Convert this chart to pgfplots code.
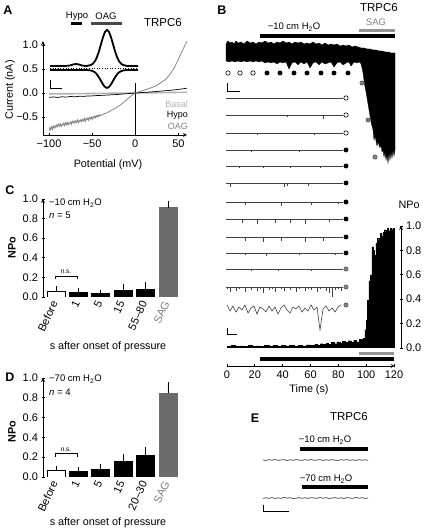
\documentclass[border=0pt]{standalone}
\usepackage{pgfplots}
\pgfplotsset{compat=1.18}
\usepackage{pgfplotstable}
\usepackage{fontspec}
\setmainfont{Liberation Sans}
\definecolor{sagc}{gray}{0.50}
\definecolor{oagc}{gray}{0.52}
\definecolor{basalc}{gray}{0.70}
\definecolor{gcirc}{gray}{0.50}
\definecolor{sagbar}{gray}{0.42}
\definecolor{stimg}{gray}{0.58}
\definecolor{trace}{gray}{0.25}
\newcommand{\tickf}{\fontsize{11}{12}\selectfont}
\newcommand{\labf}{\fontsize{10.8}{12}\selectfont}
\newcommand{\annf}{\fontsize{9.5}{11}\selectfont}
\newcommand{\letf}{\fontsize{12.5}{14}\selectfont\bfseries}

\pgfplotsset{
  every axis/.append style={scale only axis, anchor=south west,
    /pgf/number format/assume math mode=true,
    tick label style={font=\tickf},
    major tick length=3pt, tick align=outside,
    axis line style={-, line width=0.8pt},
    every tick/.append style={black, line width=0.8pt}},
  canvas/.style={at={(0pt,0pt)}, width=432pt, height=529pt, xmin=0, xmax=432, ymin=-529, ymax=0, hide axis, clip=false},
  spikes/.style={mark=none, draw=none, forget plot,
    error bars/y dir=minus, error bars/y explicit, error bars/error mark=none,
    error bars/error bar style={draw=trace, line width=0.5pt, solid}},
  fuzz/.style={mark=none, draw=none, forget plot,
    error bars/y dir=both, error bars/y explicit, error bars/error mark=none,
    error bars/error bar style={draw=trace!70, line width=0.4pt, solid}},
  bars/.style={ybar, bar width=18pt, bar shift=0pt, line width=0.8pt,
    error bars/y dir=plus, error bars/y explicit,
    error bars/error bar style={draw=black, line width=0.8pt, solid},
    error bars/error mark options={draw=black, line width=0.8pt, mark size=2.5pt}},
}

\pgfplotstableread{
x r1 r2 r3 r4 r5 r6 r7 r8 r9 r10 r11 r12 r13
227 1 .5 1 .5 1 1 .5 1 .5 1 .5 2 3
230 .5 1 .5 1 .5 4 1 .5 1 .5 1 5 9
233 1.5 .5 1 .5 1 1 .5 1 .5 1 .5 1 4
236 .5 1 1.5 1 .5 .5 1 .5 1 .5 1 4 10
239 1 .5 1 .5 2 1 .5 1 .5 1 .5 2 5
242 .5 1 .5 1 .5 .5 1 4 1 .5 1 1 8
245 1 .5 1 .5 1 1 3 1 4 2 .5 5 3
248 .5 1 .5 1 .5 .5 1 .5 1 .5 1 1.5 11
251 1.5 .5 1 2 1 1 .5 1 .5 1 2.5 3 6
254 .5 1 .5 1 .5 .5 1 .5 1 .5 1 1 4
257 1 .5 2 .5 1 1 .5 5 .5 1 .5 4 12
260 .5 1.5 .5 1 .5 .5 1 .5 1 .5 1 2 5
263 1 .5 1 .5 2.5 1 .5 1 5 1 .5 6 7
266 1.5 1 .5 1 .5 .5 1 .5 1 3 1 1 10
269 1 .5 1 .5 1 1 .5 1 .5 1 .5 3 4
272 .5 1 .5 1 .5 .5 1 .5 1 .5 1 2 9
275 1 .5 1 1.5 1 1 .5 4 .5 1 .5 5 5
278 .5 1 .5 1 .5 .5 1 .5 1 .5 2 1 12
281 1 .5 1 .5 1 1 4 1 4 1 .5 2 6
284 1.5 1 .5 1 .5 4.5 1 .5 1 .5 1 4 3
287 1 2 1 .5 1 3 .5 1 .5 1 .5 1.5 8
290 .5 1 .5 1 2 .5 1 4.5 1 .5 1 3 11
293 1 .5 1.5 .5 1 1 .5 1 .5 1 .5 1 5
296 .5 1 .5 1 .5 .5 1 .5 1 .5 1 5 7
299 1 .5 1 2 1 1 .5 1 .5 2.5 .5 2 4
302 .5 1 .5 1 .5 .5 1 .5 1 .5 1 1 10
305 1.5 .5 1 .5 1 1 .5 5 5.5 1 .5 4 6
308 .5 1 .5 1 .5 3.5 1 .5 1 .5 1 2 9
311 1 .5 1 .5 1 1 3.5 1 .5 1 2.5 3 3
314 .5 1 2 1 .5 .5 1 .5 1 .5 1 1 8
317 1 .5 1 .5 1 1 .5 1 .5 1 .5 5 5
320 .5 1 .5 1 2 .5 1 .5 1 .5 1 2 28
323 1 4 1 .5 1 1 .5 1 4.5 1 .5 1 7
326 1.5 1 .5 1 .5 .5 1 .5 1 .5 1 4 4
329 1 .5 1 .5 1 1 .5 3.5 .5 1 .5 6 9
332 .5 1 .5 1 .5 .5 1 .5 1 .5 1 10 6
335 1 .5 1 1.5 1 1 .5 1 .5 2 .5 3 10
338 .5 1 .5 1 .5 .5 2 .5 1 .5 1 2 5
341 1 .5 1 .5 1 1 .5 1 .5 1 .5 4 3
}\sweeps

\pgfplotstableread{
x e1 e2
263 0 0.3
266 0.4 -0.2
269 -0.3 0.3
272 0.2 -0.4
275 -0.5 0.4
278 0.3 -0.1
281 0.1 0.3
284 -0.4 -0.5
287 0.5 0.1
290 -0.2 -0.3
293 0.3 0.5
296 -0.4 0.2
299 0.1 -0.4
302 0.4 0.3
305 -0.3 -0.2
308 0.2 0.4
311 -0.5 -0.3
314 0.3 0
317 0 0.3
320 -0.3 -0.5
323 0.4 0.2
326 -0.2 -0.3
329 0.3 0.4
332 -0.4 0.1
335 0.2 -0.4
338 0.5 0.3
341 -0.3 -0.2
344 0.1 0.5
347 -0.4 -0.4
350 0.3 0.1
353 -0.1 0.3
356 0.4 -0.5
359 -0.3 0.2
362 0.2 -0.3
365 -0.2 0.4
368 0.3 0
}\etab

\begin{document}
\begin{tikzpicture}
\fill[white] (0pt,0pt) rectangle (432pt,529pt);

%================ CANVAS (traces, stimulus bars, annotations) ================
\begin{axis}[canvas]
% ---- Panel A inset
\addplot[black, dotted, line width=0.6pt] coordinates {(50,-68.3) (138,-68.3)};
\addplot[black, line width=1.8pt] coordinates {(50,-66) (55,-66) (60,-66) (65,-66) (70,-65.5) (73,-64.5) (76,-64) (79,-64.5) (82,-65.5) (85,-66) (87,-65.9) (91,-65) (93,-63.6) (95,-61.1) (97,-57) (99,-51.2) (101,-44.1) (103,-37.2) (105,-31.9) (107,-30) (109,-31.9) (111,-37.2) (113,-44.1) (115,-51.2) (117,-57) (119,-61.1) (121,-63.6) (123,-65) (127,-65.9) (130,-66) (138,-66)};
\addplot[black, line width=1.8pt] coordinates {(50,-70) (87,-70) (91,-70.5) (93,-71.2) (95,-72.4) (97,-74.5) (99,-77.4) (101,-80.9) (103,-84.4) (105,-87) (107,-88) (109,-87) (111,-84.4) (113,-80.9) (115,-77.4) (117,-74.5) (119,-72.4) (121,-71.2) (123,-70.5) (127,-70) (138,-70)};
\addplot[black, line width=0.8pt] coordinates {(50,-80) (50,-88) (62,-88)};
\addplot[black, line width=3pt] coordinates {(71,-24) (82,-24)};
\addplot[black!72, line width=3pt] coordinates {(91,-24) (122,-24)};

% ---- Panel B: stimulus bars
\addplot[black, line width=3.5pt] coordinates {(260,-36) (395,-36)};
\addplot[stimg, line width=3pt] coordinates {(359,-30.5) (395,-30.5)};

% ---- Panel B: continuous trace
\addplot[fill=black, draw=black, line width=0.3pt] coordinates {
(226,-44) (228,-41) (230,-43) (232,-42) (234,-44) (236,-41) (238,-43) (241,-42) (244,-44) (247,-41) (250,-43) (253,-42) (256,-44) (259,-42) (262,-43) (265,-41) (268,-43) (271,-42) (274,-44) (277,-42) (280,-43) (283,-41) (286,-43) (289,-42) (292,-44) (295,-42) (298,-43) (301,-42) (304,-44) (307,-43) (310,-44) (313,-42) (316,-44) (319,-43) (322,-45) (325,-43) (328,-45) (331,-44) (334,-45) (337,-44) (340,-46) (343,-45) (346,-46) (349,-45) (352,-47) (355,-46) (358,-47) (361,-48) (364,-48) (367,-49) (370,-49) (373,-50) (376,-50) (379,-51) (382,-51) (385,-52) (388,-52) (391,-53) (395,-53)
(395,-150) (394,-156) (393,-150) (392,-158) (391,-152) (390,-160) (389,-153) (388,-163) (387,-155) (386,-160) (385,-152) (384,-157) (383,-150) (382,-152) (381,-145) (380,-148) (378,-142) (377,-146) (375,-136) (374,-140) (373,-130) (372,-126) (371,-122) (370,-116) (369,-110) (368,-104) (367,-98) (366,-92) (365,-87) (364,-80) (363,-73) (362,-68) (361,-64) (360,-62)
(357,-63) (354,-62) (351,-66) (349,-62) (346,-63) (343,-65) (340,-62) (337,-63) (334,-67) (331,-62) (328,-63) (325,-64) (322,-62) (319,-65) (316,-62) (313,-63) (310,-68) (307,-62) (304,-64) (301,-62) (298,-65) (295,-62) (292,-63) (289,-69) (286,-62) (283,-63) (280,-62) (277,-64) (274,-62) (271,-63) (268,-62) (265,-63) (262,-61) (259,-62) (256,-61) (253,-62) (250,-61) (247,-62) (244,-61) (241,-62) (238,-61) (235,-62) (232,-61) (229,-62) (226,-61)} -- cycle;

% ---- Panel B: circles
\addplot[only marks, mark=*, mark size=2.2pt, mark options={fill=white, draw=black, line width=0.6pt}] coordinates {(228,-73) (240,-73) (253,-73) (346,-98) (346,-115) (346,-133)};
\addplot[only marks, mark=*, mark size=2.2pt, mark options={fill=black, draw=black}] coordinates {(267,-73) (280,-73) (294,-73) (307,-73) (321,-73) (334,-73) (348,-73) (346,-150) (346,-166) (346,-183) (346,-202) (346,-219) (346,-237) (346,-253)};
\addplot[only marks, mark=*, mark size=2.2pt, mark options={fill=gcirc, draw=black!70, line width=0.4pt}] coordinates {(362,-83) (368,-120) (375,-157) (346,-269) (346,-287) (346,-305)};
\addplot[black, line width=0.8pt] coordinates {(227,-83) (227,-91) (240,-91)};

% ---- Panel B: sweeps
\addplot[trace, line width=0.7pt] coordinates {(226,-98) (343,-98)};
\addplot[trace, line width=0.7pt] coordinates {(226,-115) (343,-115)};
\addplot[trace, line width=0.7pt] coordinates {(226,-133) (343,-133)};
\addplot[trace, line width=0.7pt] coordinates {(226,-150) (343,-150)};
\addplot[trace, line width=0.7pt] coordinates {(226,-166) (343,-166)};
\addplot[trace, line width=0.7pt] coordinates {(226,-183) (343,-183)};
\addplot[trace, line width=0.7pt] coordinates {(226,-202) (343,-202)};
\addplot[trace, line width=0.7pt] coordinates {(226,-219) (343,-219)};
\addplot[trace, line width=0.7pt] coordinates {(226,-237) (343,-237)};
\addplot[trace, line width=0.7pt] coordinates {(226,-253) (343,-253)};
\addplot[trace, line width=0.7pt] coordinates {(226,-269) (343,-269)};
\addplot[trace, line width=0.7pt] coordinates {(226,-287) (343,-287)};
\addplot[spikes] table[x=x, y expr=-98, y error=r1] {\sweeps};
\addplot[spikes] table[x=x, y expr=-115, y error=r2] {\sweeps};
\addplot[spikes] table[x=x, y expr=-133, y error=r3] {\sweeps};
\addplot[spikes] table[x=x, y expr=-150, y error=r4] {\sweeps};
\addplot[spikes] table[x=x, y expr=-166, y error=r5] {\sweeps};
\addplot[spikes] table[x=x, y expr=-183, y error=r6] {\sweeps};
\addplot[spikes] table[x=x, y expr=-202, y error=r7] {\sweeps};
\addplot[spikes] table[x=x, y expr=-219, y error=r8] {\sweeps};
\addplot[spikes] table[x=x, y expr=-237, y error=r9] {\sweeps};
\addplot[spikes] table[x=x, y expr=-253, y error=r10] {\sweeps};
\addplot[spikes] table[x=x, y expr=-269, y error=r11] {\sweeps};
\addplot[spikes] table[x=x, y expr=-287, y error=r12] {\sweeps};
\addplot[trace, line width=0.6pt] table[x=x, y expr=-302-\thisrow{r13}] {\sweeps};
\addplot[black, line width=0.8pt] coordinates {(227,-328) (227,-334) (237,-334)};

% ---- Panel B: bottom stimulus bars
\addplot[stimg, line width=3.2pt] coordinates {(359,-353.5) (394,-353.5)};
\addplot[black, line width=3.5pt] coordinates {(260,-359) (394,-359)};

% ---- Panel C / D n.s. brackets
\addplot[black, line width=0.6pt] coordinates {(55,-279.5) (55,-276) (77,-276) (77,-279.5)};
\addplot[black, line width=0.6pt] coordinates {(55,-457) (55,-453.5) (77,-453.5) (77,-457)};

% ---- Panel E
\addplot[black, line width=3.5pt] coordinates {(300,-449) (368,-449)};
\addplot[black, line width=3.5pt] coordinates {(302,-487) (368,-487)};
\addplot[trace, line width=0.7pt] table[x=x, y expr=-460-\thisrow{e1}] {\etab};
\addplot[trace, line width=0.7pt] table[x=x, y expr=-498-\thisrow{e2}] {\etab};
\addplot[black, line width=0.8pt] coordinates {(263,-505) (263,-511) (289,-511)};

% ---- Text
\node[font=\letf, inner sep=0pt] at (axis cs:8,-10) {A};
\node[font=\annf, inner sep=0pt] at (axis cs:77,-16) {Hypo};
\node[font=\annf, inner sep=0pt] at (axis cs:106,-16) {OAG};
\node[font=\fontsize{11.5}{13}\selectfont, inner sep=0pt] at (axis cs:163,-23) {TRPC6};
\node[font=\fontsize{9}{11}\selectfont, inner sep=0pt, anchor=east, text=basalc] at (axis cs:188,-104) {Basal};
\node[font=\fontsize{9}{11}\selectfont, inner sep=0pt, anchor=east, text=black] at (axis cs:188,-115) {Hypo};
\node[font=\fontsize{9}{11}\selectfont, inner sep=0pt, anchor=east, text=oagc] at (axis cs:188,-126) {OAG};
\node[font=\labf, inner sep=0pt, rotate=90] at (axis cs:10,-90) {Current (nA)};
\node[font=\labf, inner sep=0pt] at (axis cs:108,-165) {Potential (mV)};

\node[font=\letf, inner sep=0pt] at (axis cs:222,-10) {B};
\node[font=\fontsize{11.5}{13}\selectfont, inner sep=0pt] at (axis cs:379,-8) {TRPC6};
\node[font=\annf, inner sep=0pt] at (axis cs:294,-27) {−10 cm H\textsubscript{2}O};
\node[font=\annf, inner sep=0pt, text=sagc] at (axis cs:376,-22) {SAG};
\node[font=\labf, inner sep=0pt] at (axis cs:409,-205) {NPo};
\node[font=\labf, inner sep=0pt] at (axis cs:309,-390) {Time (s)};

\node[font=\letf, inner sep=0pt] at (axis cs:10,-190) {C};
\node[font=\annf, inner sep=0pt, anchor=west] at (axis cs:49,-203) {−10 cm H\textsubscript{2}O};
\node[font=\annf, inner sep=0pt, anchor=west] at (axis cs:49,-215) {\emph{n} = 5};
\node[font=\fontsize{6.5}{7}\selectfont, inner sep=0pt] at (axis cs:66,-272) {n.s.};
\node[font=\labf\bfseries, inner sep=0pt, rotate=90] at (axis cs:12,-248) {NPo};
\node[font=\labf, inner sep=0pt] at (axis cs:108,-347) {s after onset of pressure};

\node[font=\letf, inner sep=0pt] at (axis cs:10,-377) {D};
\node[font=\annf, inner sep=0pt, anchor=west] at (axis cs:49,-379) {−70 cm H\textsubscript{2}O};
\node[font=\annf, inner sep=0pt, anchor=west] at (axis cs:49,-392) {\emph{n} = 4};
\node[font=\fontsize{6.5}{7}\selectfont, inner sep=0pt] at (axis cs:66,-449.5) {n.s.};
\node[font=\labf\bfseries, inner sep=0pt, rotate=90] at (axis cs:12,-432) {NPo};
\node[font=\labf, inner sep=0pt] at (axis cs:108,-523) {s after onset of pressure};

\node[font=\letf, inner sep=0pt] at (axis cs:255,-418) {E};
\node[font=\fontsize{11.5}{13}\selectfont, inner sep=0pt] at (axis cs:349,-417) {TRPC6};
\node[font=\annf, inner sep=0pt] at (axis cs:325,-440) {−10 cm H\textsubscript{2}O};
\node[font=\annf, inner sep=0pt] at (axis cs:326,-479) {−70 cm H\textsubscript{2}O};
\end{axis}

%================ Panel A: I-V curves ================
\begin{axis}[at={(43pt,394pt)}, width=144pt, height=93.8pt,
  xmin=-107, xmax=60, ymin=-0.875, ymax=1.08,
  axis x line=bottom, axis y line=left, clip=false,
  xtick={-100,-50,0,50}, xticklabels={−100,−50,0,50},
  ytick={-0.5,0,0.5,1}, yticklabels={−0.5,0.0,0.5,1.0}]
\addplot[basalc, line width=1.6pt] coordinates {(-100,-0.02) (0,0) (60,0.015)};
\addplot[black, line width=0.8pt] coordinates {(0,0.2) (0,-0.875)};
\addplot[black, line width=0.7pt] coordinates {(-100,-0.09) (-95,-0.082) (-90,-0.092) (-85,-0.078) (-80,-0.086) (-75,-0.072) (-70,-0.08) (-65,-0.068) (-60,-0.071) (-55,-0.062) (-50,-0.06) (-45,-0.054) (-40,-0.05) (-35,-0.045) (-30,-0.04) (-25,-0.035) (-20,-0.03) (-15,-0.021) (-10,-0.015) (-5,-0.008) (0,0) (10,0.012) (20,0.025) (30,0.04) (40,0.055) (50,0.075) (60,0.1)};
\addplot[oagc, line width=0.8pt] coordinates {(-100,-0.78) (-99,-0.72) (-98,-0.77) (-97,-0.7) (-96,-0.75) (-95,-0.69) (-94,-0.73) (-93,-0.68) (-92,-0.72) (-91,-0.66) (-90,-0.7) (-89,-0.65) (-88,-0.69) (-87,-0.64) (-86,-0.7) (-85,-0.65) (-84,-0.67) (-83,-0.63) (-82,-0.68) (-81,-0.62) (-80,-0.66) (-79,-0.61) (-78,-0.67) (-77,-0.62) (-76,-0.64) (-75,-0.6) (-74,-0.65) (-73,-0.59) (-72,-0.62) (-71,-0.58) (-70,-0.63) (-69,-0.58) (-68,-0.61) (-67,-0.56) (-66,-0.62) (-65,-0.57) (-64,-0.59) (-63,-0.55) (-62,-0.6) (-61,-0.55) (-60,-0.58) (-59,-0.53) (-58,-0.59) (-57,-0.53) (-56,-0.56) (-55,-0.52) (-54,-0.57) (-53,-0.51) (-52,-0.54) (-51,-0.5) (-50,-0.55) (-49,-0.49) (-48,-0.52) (-47,-0.48) (-46,-0.52) (-45,-0.47) (-44,-0.5) (-43,-0.46) (-42,-0.49) (-41,-0.45) (-40,-0.47) (-38,-0.45) (-36,-0.43) (-34,-0.42) (-32,-0.4) (-30,-0.39) (-28,-0.36) (-26,-0.35) (-24,-0.32) (-22,-0.31) (-20,-0.28) (-18,-0.26) (-16,-0.23) (-14,-0.2) (-12,-0.17) (-10,-0.14) (-8,-0.11) (-6,-0.08) (-4,-0.05) (-2,-0.025) (0,0) (5,0.03) (10,0.06) (15,0.09) (20,0.12) (25,0.16) (30,0.22) (35,0.28) (40,0.38) (45,0.52) (50,0.7) (55,0.9) (60,1.08)};
\end{axis}

%================ Panel B: NPo ================
\begin{axis}[at={(227pt,181pt)}, width=174pt, height=122pt,
  xmin=0, xmax=125, ymin=0, ymax=1,
  axis y line=right, axis x line=none,
  ytick={0,0.2,0.4,0.6,0.8,1}, yticklabels={0.0,0.2,0.4,0.6,0.8,1.0}]
\addplot[fill=black, draw=black, line width=0.3pt, const plot] coordinates {(0,0.015) (3,0.02) (6,0.012) (9,0.018) (12,0.015) (15,0.02) (18,0.014) (21,0.018) (24,0.015) (27,0.02) (30,0.016) (33,0.02) (36,0.015) (39,0.022) (42,0.017) (45,0.02) (48,0.016) (51,0.022) (54,0.018) (57,0.025) (60,0.02) (63,0.03) (65,0.025) (67,0.035) (69,0.03) (71,0.04) (73,0.032) (75,0.045) (77,0.035) (79,0.05) (81,0.04) (83,0.055) (85,0.045) (87,0.06) (89,0.048) (91,0.065) (93,0.05) (95,0.07) (97,0.06) (98,0.08) (99,0.15) (100,0.23) (101,0.39) (102,0.55) (103,0.6) (104,0.83) (105,0.8) (106,0.76) (107,0.86) (108,0.9) (109,0.88) (110,0.94) (111,0.92) (112,0.95) (113,0.97) (114,0.95) (115,0.98) (116,0.96) (117,0.98) (118,0.97) (119,0.98) (120.3,0.98)} \closedcycle;
\end{axis}

%================ Panel B: time axis ================
\begin{axis}[at={(227pt,163pt)}, width=167.7pt, height=5pt,
  xmin=0, xmax=120.5, ymin=0, ymax=1,
  axis x line=bottom, axis y line=none,
  xtick={0,20,40,60,80,100,120}]
\addplot[draw=none] coordinates {(0,0.5)};
\end{axis}

%================ Panel C ================
\begin{axis}[at={(43pt,232pt)}, width=138.4pt, height=98pt,
  xmin=-0.58, xmax=5.6, ymin=0, ymax=1,
  axis y line=left, axis x line=bottom, x axis line style={draw=none},
  xtick={0,1,2,3,4,5}, xticklabels={Before,1,5,15,55–80,\textcolor{sagc}{SAG}},
  xtick style={draw=none},
  xticklabel style={rotate=65, anchor=east},
  ytick={0,0.2,0.4,0.6,0.8,1}, yticklabels={0.0,0.2,0.4,0.6,0.8,1.0}]
\addplot[bars, fill=white, draw=black] coordinates {(0,0.055) +- (0,0.035)};
\addplot[bars, fill=black, draw=black] coordinates {(1,0.045) +- (0,0.02) (2,0.037) +- (0,0.013) (3,0.065) +- (0,0.045) (4,0.078) +- (0,0.047)};
\addplot[bars, fill=sagbar, draw=sagbar] coordinates {(5,0.91) +- (0,0.04)};
\end{axis}

%================ Panel D ================
\begin{axis}[at={(43pt,52pt)}, width=138.4pt, height=99pt,
  xmin=-0.58, xmax=5.6, ymin=0, ymax=1,
  axis y line=left, axis x line=bottom, x axis line style={draw=none},
  xtick={0,1,2,3,4,5}, xticklabels={Before,1,5,15,20–30,\textcolor{sagc}{SAG}},
  xtick style={draw=none},
  xticklabel style={rotate=65, anchor=east},
  ytick={0,0.2,0.4,0.6,0.8,1}, yticklabels={0.0,0.2,0.4,0.6,0.8,1.0}]
\addplot[bars, fill=white, draw=black] coordinates {(0,0.067) +- (0,0.023)};
\addplot[bars, fill=black, draw=black] coordinates {(1,0.057) +- (0,0.016) (2,0.073) +- (0,0.034) (3,0.16) +- (0,0.05) (4,0.217) +- (0,0.063)};
\addplot[bars, fill=sagbar, draw=sagbar] coordinates {(5,0.845) +- (0,0.085)};
\end{axis}

\pgfresetboundingbox
\path[use as bounding box] (0pt,0pt) rectangle (432pt,529pt);
\end{tikzpicture}
\end{document}
